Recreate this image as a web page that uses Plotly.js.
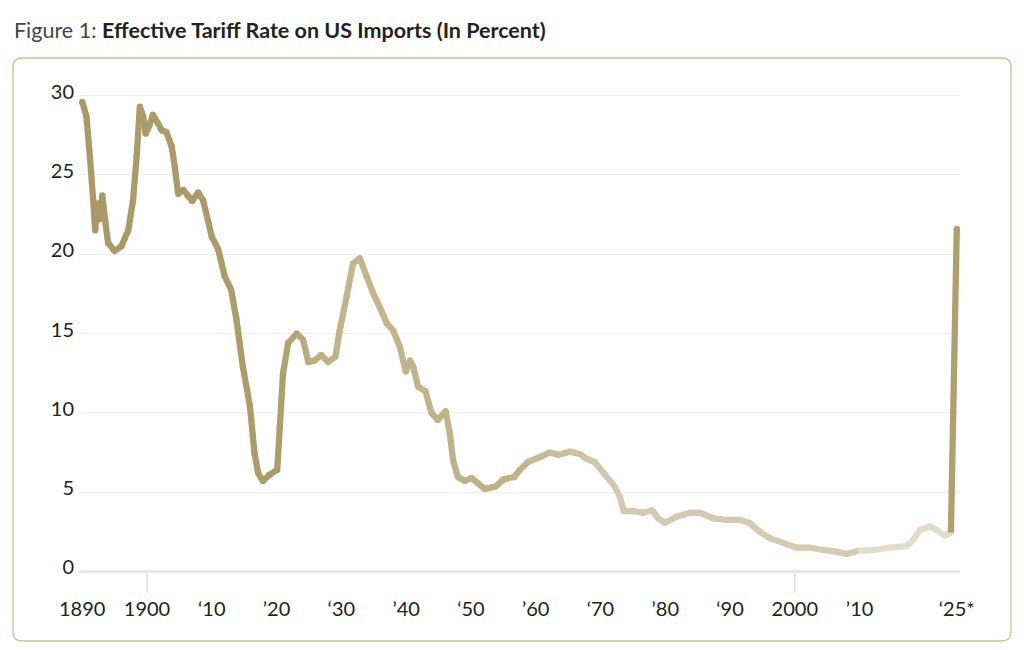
<!DOCTYPE html>
<html>
<head>
<meta charset="utf-8">
<script src="https://cdn.plot.ly/plotly-3.0.1.min.js"></script>
<style>
  html, body { margin: 0; padding: 0; background: #fff; }
  #plot { width: 1024px; height: 650px; }
</style>
</head>
<body>
<div id="plot"></div>
<script>
// effective tariff rate (year, percent)
let years = [
  1890, 1890.65, 1891.2, 1891.7, 1892, 1892.4, 1892.7, 1893.1, 1893.6, 1894,
  1895, 1896.05, 1897.1, 1897.85, 1898.4, 1898.9, 1899.4, 1899.8, 1900.4, 1900.9,
  1901.7, 1902.3, 1903, 1903.8, 1904.3, 1904.8, 1905.6, 1906.3, 1907, 1907.9,
  1908.65, 1909.4, 1910, 1911, 1912, 1913, 1913.8, 1914.8, 1915.9, 1916.6,
  1917.15, 1917.9, 1918.95, 1920.1, 1920.5, 1921, 1921.8, 1923.1, 1924.1, 1924.9,
  1925.9, 1926.9, 1927.95, 1929.1, 1929.75, 1930.8, 1931.8, 1932.85, 1933.9, 1934.9,
  1935.9, 1937, 1938, 1939, 1939.95, 1940.6, 1941.1, 1941.85, 1943, 1943.9,
  1944.9, 1946.1, 1946.75, 1947.25, 1948, 1949.05, 1950.1, 1951.1, 1952.15, 1953.8,
  1955, 1956.7, 1957.55, 1958.8, 1960.9, 1962.2, 1963.5, 1965.3, 1966.8, 1967.85,
  1969.1, 1970.7, 1972.2, 1973, 1973.6, 1975.05, 1976.6, 1978, 1978.9, 1979.9,
  1981.7, 1983.8, 1985.3, 1987.4, 1989.45, 1991.5, 1993.05, 1994.6, 1996.1, 1998.2,
  2000.3, 2002.3, 2004.4, 2006.45, 2008, 2009.8, 2012.1, 2014.7, 2017.25, 2018.3,
  2019.3, 2020.85, 2021.9, 2023.15, 2024.1, 2025
];
let rates = [
  29.6, 28.7, 26.1, 23.4, 21.5, 23.2, 22.2, 23.7, 21.95, 20.7,
  20.2, 20.5, 21.5, 23.4, 26.15, 29.3, 28.7, 27.6, 28.15, 28.8,
  28.25, 27.8, 27.7, 26.8, 25.5, 23.8, 24.05, 23.7, 23.35, 23.9,
  23.4, 22.15, 21.1, 20.3, 18.6, 17.75, 15.9, 12.9, 10.4, 7.45,
  6.2, 5.7, 6.1, 6.4, 9.1, 12.5, 14.4, 15.0, 14.6, 13.2,
  13.3, 13.65, 13.2, 13.55, 15.2, 17.3, 19.4, 19.75, 18.6, 17.55,
  16.7, 15.65, 15.2, 14.2, 12.6, 13.3, 12.9, 11.65, 11.35, 10.0,
  9.55, 10.1, 8.7, 7.0, 5.95, 5.7, 5.9, 5.55, 5.2, 5.35,
  5.8, 5.95, 6.4, 6.9, 7.25, 7.5, 7.35, 7.55, 7.4, 7.1,
  6.9, 6.1, 5.35, 4.7, 3.8, 3.8, 3.7, 3.85, 3.35, 3.05,
  3.45, 3.7, 3.7, 3.35, 3.25, 3.25, 3.05, 2.5, 2.1, 1.8,
  1.5, 1.5, 1.35, 1.25, 1.1, 1.3, 1.35, 1.5, 1.6, 2.0,
  2.6, 2.85, 2.6, 2.25, 2.45, 21.6
];

let tickYears = [1890, 1900, 1910, 1920, 1930, 1940, 1950, 1960, 1970, 1980, 1990, 2000, 2010, 2025];
let tickLabels = ['1890', '1900', '\u201810', '\u201920', '\u201830', '\u201940', '\u201850', '\u201960', '\u201870', '\u201980', '\u201890', '2000', '\u201910', '\u201825*'];
let yTicks = [0, 5, 10, 15, 20, 25, 30];

// line colour fades over time, then the last jump is dark again
let colorStops = [
  [1890, [170, 154, 106]],
  [1920, [172, 156, 108]],
  [1924, [185, 170, 127]],
  [1932, [196, 183, 143]],
  [1945, [192, 178, 137]],
  [1955, [190, 176, 135]],
  [1962, [200, 188, 152]],
  [1972, [212, 202, 177]],
  [2009, [213, 203, 178]],
  [2011, [227, 221, 205]],
  [2024, [226, 220, 204]]
];
let spikeColor = 'rgb(176,160,112)';

function colorAt(yr) {
  if (yr <= colorStops[0][0]) return colorStops[0][1];
  for (let i = 1; i < colorStops.length; i++) {
    if (yr <= colorStops[i][0]) {
      let a = colorStops[i - 1], b = colorStops[i];
      let t = (yr - a[0]) / (b[0] - a[0]);
      return a[1].map((c, k) => Math.round(c + (b[1][k] - c) * t));
    }
  }
  return colorStops[colorStops.length - 1][1];
}
function rgb(c) { return 'rgb(' + c.join(',') + ')'; }

let lineWidth = 6.3;
let traces = [];
let pointColors = years.map(function(y, i) {
  if (i === years.length - 1) return spikeColor;
  return rgb(colorAt(y));
});

// round dots under the segments so the joins stay smooth
traces.push({
  x: years, y: rates, mode: 'markers', type: 'scatter',
  marker: { size: lineWidth, color: pointColors, line: { width: 0 } },
  hoverinfo: 'skip', showlegend: false
});

for (let i = 0; i < years.length - 1; i++) {
  let last = i === years.length - 2;
  let col = last ? spikeColor : rgb(colorAt((years[i] + years[i + 1]) / 2));
  traces.push({
    x: [years[i], years[i + 1]],
    y: [rates[i], rates[i + 1]],
    mode: 'lines', type: 'scatter',
    line: { color: col, width: lineWidth },
    hoverinfo: 'skip', showlegend: false
  });
}

// plot area in pixels, used to place the rounded frame
let plotL = 78, plotR = 960, plotT = 94, plotB = 573;
function px(x) { return (x - plotL) / (plotR - plotL); }
function py(y) { return (plotB - y) / (plotB - plotT); }
function framePath(l, t, r, b, rad) {
  return 'M' + px(l + rad) + ',' + py(t) +
    ' L' + px(r - rad) + ',' + py(t) +
    ' Q' + px(r) + ',' + py(t) + ' ' + px(r) + ',' + py(t + rad) +
    ' L' + px(r) + ',' + py(b - rad) +
    ' Q' + px(r) + ',' + py(b) + ' ' + px(r - rad) + ',' + py(b) +
    ' L' + px(l + rad) + ',' + py(b) +
    ' Q' + px(l) + ',' + py(b) + ' ' + px(l) + ',' + py(b - rad) +
    ' L' + px(l) + ',' + py(t + rad) +
    ' Q' + px(l) + ',' + py(t) + ' ' + px(l + rad) + ',' + py(t) + ' Z';
}

let shapes = [
  { type: 'path', xref: 'paper', yref: 'paper', path: framePath(13, 58, 1011, 641, 9),
    line: { color: '#cdbf93', width: 1.3 }, layer: 'below' }
];
[1900, 2000].forEach(function(yr) {
  shapes.push({ type: 'line', xref: 'x', yref: 'paper', x0: yr, x1: yr, y0: 0, y1: -20 / (plotB - plotT),
    line: { color: '#dddddd', width: 1.5 } });
});

let font = 'Lato, "Noto Sans", sans-serif';
let layout = {
  width: 1024, height: 650,
  margin: { l: plotL, r: 1024 - plotR, t: plotT, b: 650 - plotB },
  paper_bgcolor: '#ffffff', plot_bgcolor: '#ffffff',
  font: { family: font, color: '#222222', size: 20 },
  title: {
    text: '<span style="color:#444444">Figure 1:</span> <b>Effective Tariff Rate on US Imports (In Percent)</b>',
    xref: 'container', yref: 'container', x: 14 / 1024, xanchor: 'left', y: 1 - 30 / 650, yanchor: 'middle',
    font: { family: font, size: 21.5, color: '#222222' }
  },
  xaxis: {
    range: [1889.35, 2025.5],
    tickvals: tickYears, ticktext: tickLabels,
    showgrid: false, zeroline: false, showline: false,
    ticks: 'outside', ticklen: 18, tickcolor: 'rgba(0,0,0,0)',
    tickfont: { family: font, size: 20, color: '#222222' },
    fixedrange: true
  },
  yaxis: {
    range: [-0.1, 30.1],
    tickvals: yTicks,
    showgrid: true, gridcolor: '#efefef', gridwidth: 1,
    zeroline: true, zerolinecolor: '#e9e9e9', zerolinewidth: 3,
    showline: false, ticks: '', ticklabelshift: -4, ticklabelstandoff: 3,
    tickfont: { family: font, size: 20, color: '#222222' },
    fixedrange: true
  },
  shapes: shapes,
  showlegend: false
};

Plotly.newPlot('plot', traces, layout, { displayModeBar: false, staticPlot: true });
</script>
</body>
</html>
